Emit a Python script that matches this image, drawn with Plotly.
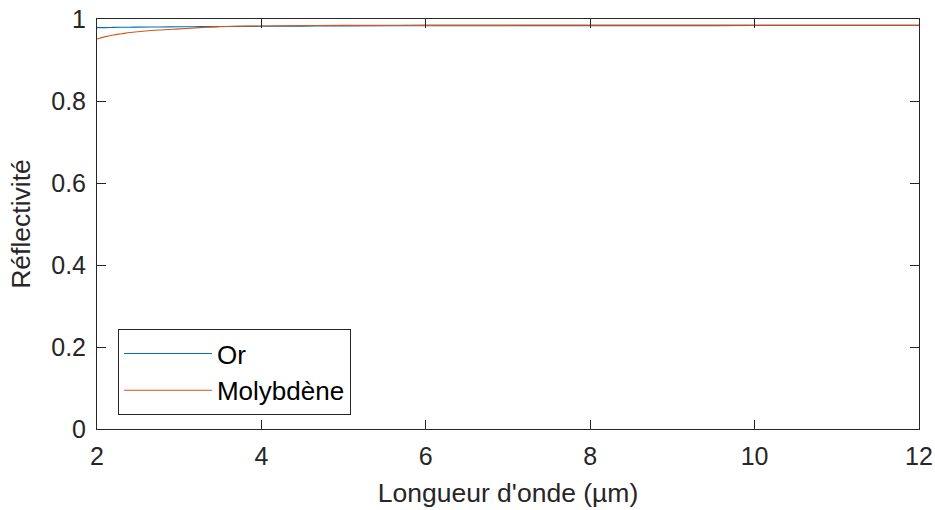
import plotly.graph_objects as go

# wavelength in micrometres
wavelength = [2, 2.1, 2.2, 2.3, 2.4, 2.5, 2.75, 3, 3.25, 3.5, 3.75, 4, 4.5, 5, 6, 7, 8, 9, 10, 11, 12]
refl_or = [0.979, 0.979, 0.9795, 0.9798, 0.98, 0.9802, 0.9806, 0.981, 0.9813, 0.9816, 0.9819,
           0.9822, 0.9827, 0.983, 0.9835, 0.9837, 0.9838, 0.9839, 0.984, 0.984, 0.984]
refl_mo = [0.951, 0.957, 0.961, 0.964, 0.967, 0.969, 0.973, 0.976, 0.979, 0.9815, 0.9825,
           0.983, 0.984, 0.9845, 0.985, 0.985, 0.985, 0.985, 0.985, 0.985, 0.985]
series_names = ['Or', 'Molybdène']

AXIS_COLOR = '#262626'
FONT = 'Liberation Sans, Arial, Helvetica, sans-serif'

fig = go.Figure()
fig.add_trace(go.Scatter(x=wavelength, y=refl_or, mode='lines', name=series_names[0],
                         line=dict(color='#0072BD', width=1.1, shape='spline')))
fig.add_trace(go.Scatter(x=wavelength, y=refl_mo, mode='lines', name=series_names[1],
                         line=dict(color='#D95319', width=1.1, shape='spline')))

axis_common = dict(
    showline=True, linecolor=AXIS_COLOR, linewidth=1, mirror='ticks',
    ticks='inside', ticklen=9, tickcolor=AXIS_COLOR, tickwidth=1,
    showgrid=False, zeroline=False, automargin=False,
    tickfont=dict(size=25, color=AXIS_COLOR, family=FONT),
)

fig.update_xaxes(range=[2, 12], dtick=2, tick0=2, ticklabelstandoff=5,
                 title=dict(text="Longueur d'onde (µm)", standoff=14,
                            font=dict(size=26.5, color=AXIS_COLOR, family=FONT)),
                 **axis_common)
fig.update_yaxes(range=[0, 1], dtick=0.2, tick0=0, ticklabelstandoff=5,
                 title=dict(text='Réflectivité', standoff=12,
                            font=dict(size=26.5, color=AXIS_COLOR, family=FONT)),
                 **axis_common)

fig.update_layout(
    width=935, height=510,
    margin=dict(l=97, r=16, t=19, b=81),
    paper_bgcolor='white', plot_bgcolor='white',
    font=dict(family=FONT, color=AXIS_COLOR),
    showlegend=True,
    legend=dict(x=0.0255, y=0.034, xanchor='left', yanchor='bottom',
                bgcolor='white', bordercolor=AXIS_COLOR, borderwidth=1,
                font=dict(size=26, color='black', family=FONT),
                itemwidth=88, entrywidth=158, tracegroupgap=0),
)

# page body has a default 8px margin; remove it so the figure sits at the origin
fig.write_html("out.html", config={'displayModeBar': False},
               post_script="document.body.style.margin='0';")
